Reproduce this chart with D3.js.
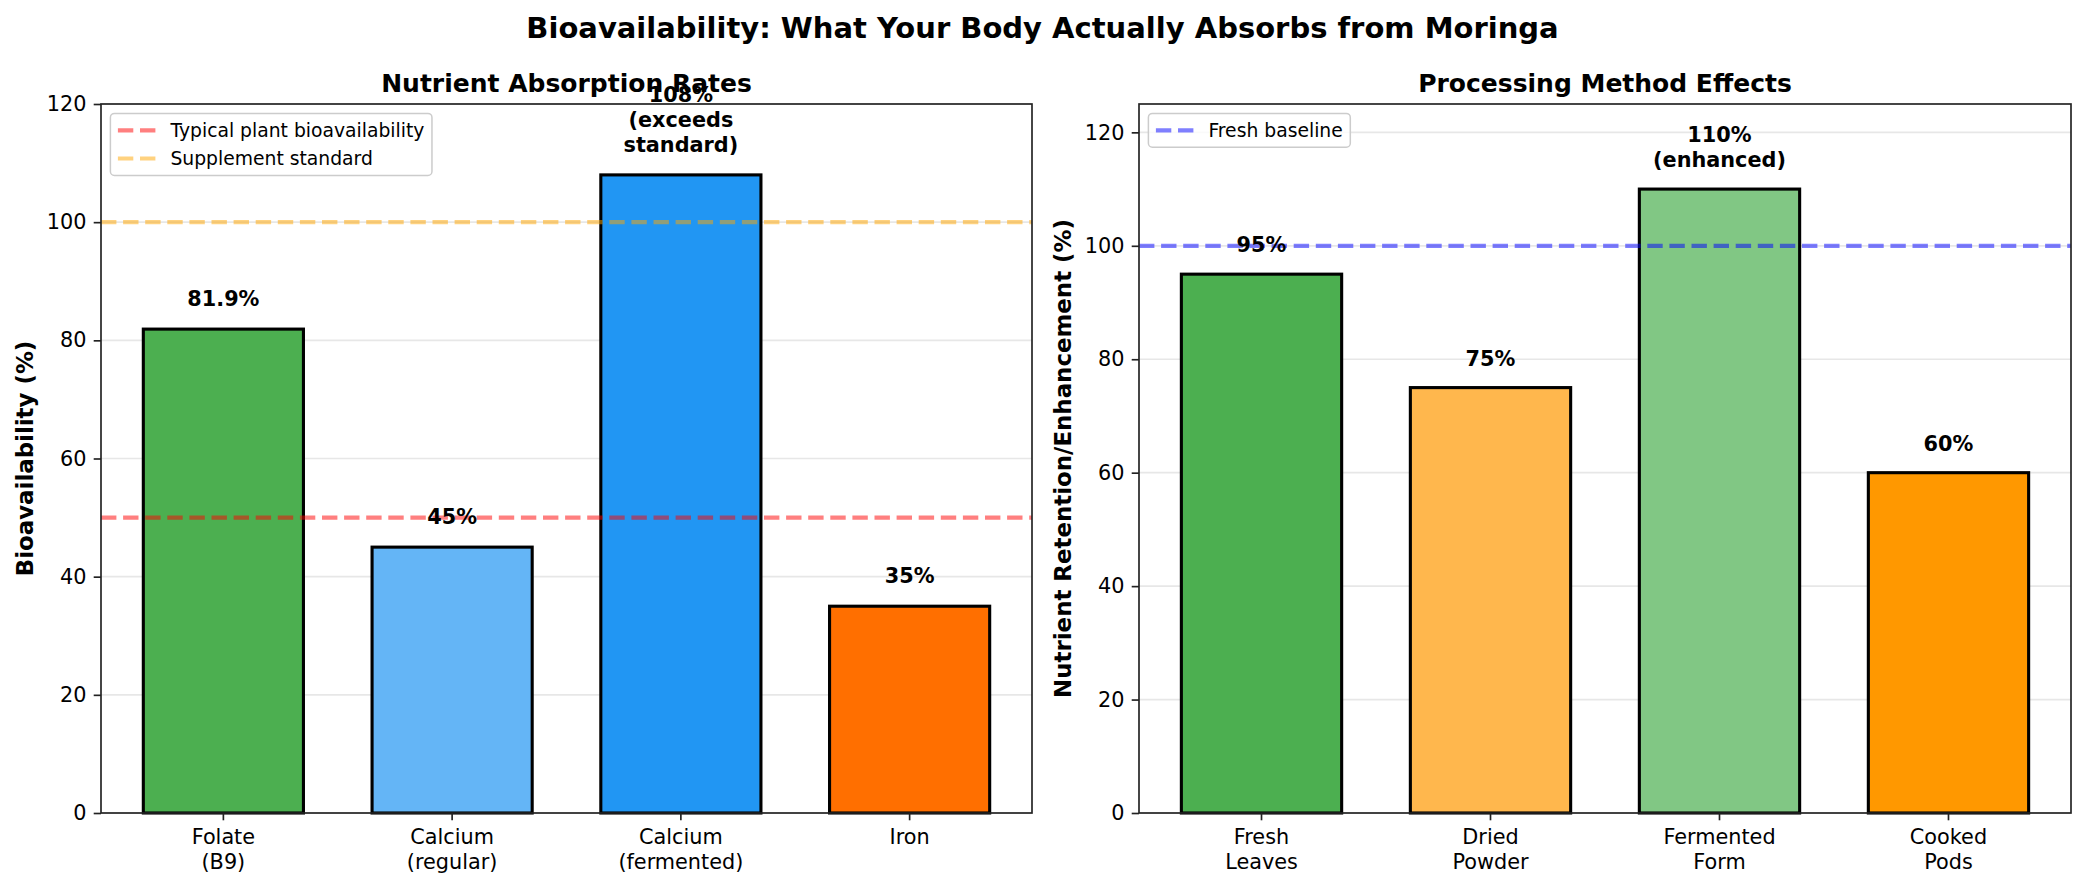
<!DOCTYPE html>
<html lang="en">
<head>
    <meta charset="UTF-8">
    <title>Bioavailability of Moringa</title>
    <script src="https://d3js.org/d3.v7.min.js"></script>
    <style>
        body { margin: 0; background: #fff; }
        svg text { font-family: "DejaVu Sans", sans-serif; }
    </style>
</head>
<body>
    <div id="chart"></div>

    <script>
        // Left panel data
        var nutrients = ["Folate\n(B9)", "Calcium\n(regular)", "Calcium\n(fermented)", "Iron"];
        var absorption = [81.9, 45, 108, 35];
        var absorptionLabels = ["81.9%", "45%", "108%\n(exceeds\nstandard)", "35%"];
        var absorptionColors = ["#4CAF50", "#64B5F6", "#2196F3", "#FF6F00"];
        var absorptionRefs = [
            { value: 50, label: "Typical plant bioavailability", color: "red" },
            { value: 100, label: "Supplement standard", color: "orange" }
        ];
        var absorptionTicks = [0, 20, 40, 60, 80, 100, 120];

        // Right panel data
        var methods = ["Fresh\nLeaves", "Dried\nPowder", "Fermented\nForm", "Cooked\nPods"];
        var retention = [95, 75, 110, 60];
        var retentionLabels = ["95%", "75%", "110%\n(enhanced)", "60%"];
        var retentionColors = ["#4CAF50", "#FFB74D", "#81C784", "#FF9800"];
        var retentionRefs = [
            { value: 100, label: "Fresh baseline", color: "blue" }
        ];
        var retentionTicks = [0, 20, 40, 60, 80, 100, 120];

        var w = 2085;
        var h = 887;

        var svg = d3.select("#chart")
            .append("svg")
            .attr("width", w)
            .attr("height", h);

        svg.append("text")
            .attr("x", w / 2)
            .attr("y", 37.5)
            .attr("text-anchor", "middle")
            .attr("font-size", "29px")
            .attr("font-weight", "bold")
            .text("Bioavailability: What Your Body Actually Absorbs from Moringa");

        function drawPanel(p) {
            var top = 104, bottom = 813;
            var left = p.left, right = p.right;
            var g = svg.append("g");

            var xScale = d3.scaleBand()
                .domain(p.categories)
                .range([left, right])
                .paddingInner(0.3)
                .paddingOuter(0.185);

            var yScale = d3.scaleLinear()
                .domain([0, p.ymax])
                .range([bottom, top]);

            // grid
            g.selectAll(".grid")
                .data(p.ticks)
                .enter()
                .append("line")
                .attr("x1", left)
                .attr("x2", right)
                .attr("y1", d => yScale(d))
                .attr("y2", d => yScale(d))
                .attr("stroke", "#b0b0b0")
                .attr("stroke-opacity", 0.3)
                .attr("stroke-width", 1.67);

            // bars
            g.selectAll("rect.bar")
                .data(p.values)
                .enter()
                .append("rect")
                .attr("class", "bar")
                .attr("x", (d, i) => xScale(p.categories[i]))
                .attr("y", d => yScale(d))
                .attr("width", xScale.bandwidth())
                .attr("height", d => yScale(0) - yScale(d))
                .attr("fill", (d, i) => p.colors[i])
                .attr("stroke", "black")
                .attr("stroke-width", 3.1);

            // reference lines
            g.selectAll("line.ref")
                .data(p.refs)
                .enter()
                .append("line")
                .attr("class", "ref")
                .attr("x1", left)
                .attr("x2", right)
                .attr("y1", d => yScale(d.value))
                .attr("y2", d => yScale(d.value))
                .attr("stroke", d => d.color)
                .attr("stroke-opacity", 0.5)
                .attr("stroke-width", 4.17)
                .attr("stroke-dasharray", "15.4,6.7");

            // value labels
            p.labels.forEach(function(lab, i) {
                var lines = lab.split("\n");
                var cx = xScale(p.categories[i]) + xScale.bandwidth() / 2;
                var base = yScale(p.values[i] + 3) - 5;
                var t = g.append("text")
                    .attr("text-anchor", "middle")
                    .attr("font-size", "20.8px")
                    .attr("font-weight", "bold");
                lines.forEach(function(line, j) {
                    t.append("tspan")
                        .attr("x", cx)
                        .attr("y", base - (lines.length - 1 - j) * 25)
                        .text(line);
                });
            });

            // x axis
            var xAxis = g.append("g")
                .attr("transform", "translate(0," + bottom + ")")
                .call(d3.axisBottom(xScale).tickSize(7.3).tickPadding(7.3).tickFormat(""));
            xAxis.select(".domain").remove();
            xAxis.selectAll(".tick line").attr("stroke-width", 1.67).attr("stroke", "#222");
            p.categories.forEach(function(cat) {
                var t = g.append("text")
                    .attr("text-anchor", "middle")
                    .attr("font-size", "20.8px");
                cat.split("\n").forEach(function(line, j) {
                    t.append("tspan")
                        .attr("x", xScale(cat) + xScale.bandwidth() / 2)
                        .attr("y", 843.6 + j * 25)
                        .text(line);
                });
            });

            // y axis
            var yAxis = g.append("g")
                .attr("transform", "translate(" + left + ",0)")
                .call(d3.axisLeft(yScale).tickValues(p.ticks).tickSize(7.3).tickPadding(7.3));
            yAxis.select(".domain").remove();
            yAxis.selectAll(".tick line").attr("stroke-width", 1.67).attr("stroke", "#222");
            yAxis.selectAll(".tick text")
                .attr("font-size", "20.8px")
                .attr("font-family", "DejaVu Sans")
                .attr("fill", "black");

            // frame
            g.append("rect")
                .attr("x", left)
                .attr("y", top)
                .attr("width", right - left)
                .attr("height", bottom - top)
                .attr("fill", "none")
                .attr("stroke", "#222")
                .attr("stroke-width", 1.67);

            // titles
            g.append("text")
                .attr("x", (left + right) / 2)
                .attr("y", 91.5)
                .attr("text-anchor", "middle")
                .attr("font-size", "25px")
                .attr("font-weight", "bold")
                .text(p.title);

            g.append("text")
                .attr("transform", "translate(" + p.ylabelX + "," + (top + bottom) / 2 + ") rotate(-90)")
                .attr("text-anchor", "middle")
                .attr("font-size", "22.9px")
                .attr("font-weight", "bold")
                .text(p.ylabel);

            // legend
            var fs = 18.75;
            var lx = left + 9.4, ly = top + 9.4;
            var leg = g.append("g");
            var box = leg.append("rect")
                .attr("x", lx)
                .attr("y", ly)
                .attr("rx", 4)
                .attr("height", 2 * 0.4 * fs + p.refs.length * 18.8 + (p.refs.length - 1) * 0.5 * fs)
                .attr("fill", "white")
                .attr("fill-opacity", 0.8)
                .attr("stroke", "#cccccc")
                .attr("stroke-width", 1.5);
            var maxW = 0;
            p.refs.forEach(function(r, i) {
                var cy = ly + 0.4 * fs + 9.4 + i * (18.8 + 0.5 * fs);
                leg.append("line")
                    .attr("x1", lx + 0.4 * fs)
                    .attr("x2", lx + 0.4 * fs + 2 * fs)
                    .attr("y1", cy)
                    .attr("y2", cy)
                    .attr("stroke", r.color)
                    .attr("stroke-opacity", 0.5)
                    .attr("stroke-width", 4.17)
                    .attr("stroke-dasharray", "15.4,6.7");
                var t = leg.append("text")
                    .attr("x", lx + 0.4 * fs + 2.8 * fs)
                    .attr("y", cy + 6.5)
                    .attr("font-size", fs + "px")
                    .text(r.label);
                maxW = Math.max(maxW, t.node().getComputedTextLength());
            });
            box.attr("width", 0.8 * fs + 2.8 * fs + maxW);
        }

        drawPanel({
            left: 101, right: 1032, ymax: 120,
            categories: nutrients, values: absorption, labels: absorptionLabels,
            colors: absorptionColors, refs: absorptionRefs, ticks: absorptionTicks,
            title: "Nutrient Absorption Rates", ylabel: "Bioavailability (%)", ylabelX: 33
        });

        drawPanel({
            left: 1139, right: 2071, ymax: 125,
            categories: methods, values: retention, labels: retentionLabels,
            colors: retentionColors, refs: retentionRefs, ticks: retentionTicks,
            title: "Processing Method Effects", ylabel: "Nutrient Retention/Enhancement (%)", ylabelX: 1071
        });
    </script>
</body>
</html>
